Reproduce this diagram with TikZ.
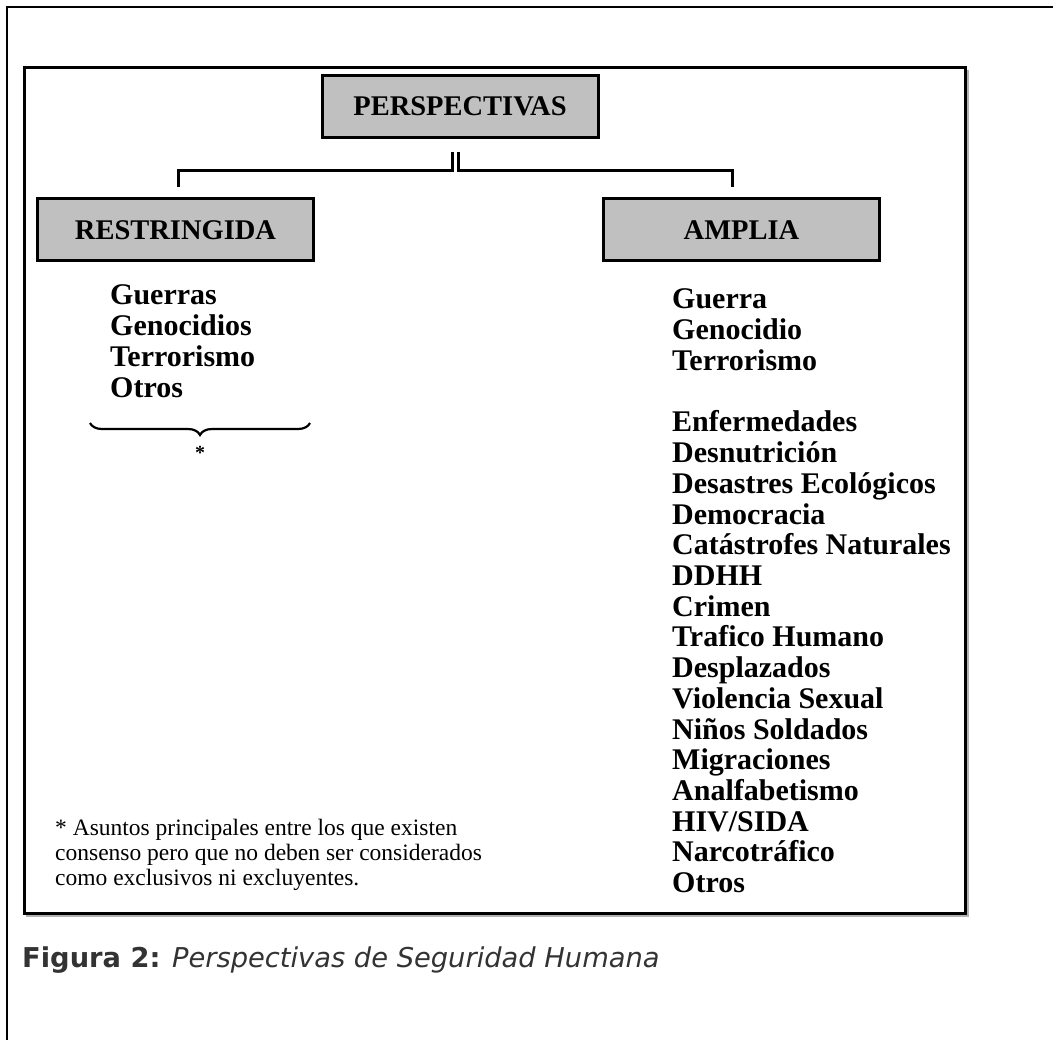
\documentclass[tikz,border=0pt]{standalone}
\usepackage{fontspec}
\setmainfont{Liberation Serif}
\newfontfamily\capsans{DejaVu Sans}
\usetikzlibrary{decorations.pathreplacing}
\definecolor{boxgray}{HTML}{C0C0C0}
\definecolor{capgray}{HTML}{333333}
\begin{document}
\begin{tikzpicture}[x=1pt,y=-1pt,
  hdr/.style={draw, line width=3pt, fill=boxgray, minimum width=276pt, minimum height=62pt, inner sep=0pt, font=\fontsize{28.5}{30}\selectfont\bfseries},
  item/.style={anchor=base west, inner sep=0pt, font=\fontsize{30}{31}\selectfont\bfseries},
  note/.style={anchor=base west, inner sep=0pt, font=\fontsize{23.5}{25}\selectfont},
  conn/.style={line width=3pt},
]
\useasboundingbox (0,0) rectangle (1053,1040);
\fill[white] (0,0) rectangle (1053,1040);
% outer frame (top and left only)
\draw[line width=2.5pt] (7,1041) -- (7,7) -- (1054,7);
% inner box with shadow
\draw[line width=2pt, gray!60] (967.5,70) -- (967.5,916) -- (26,916);
\draw[line width=3pt] (24,68) rectangle (965,913.5);
% headers
\node[hdr] (persp) at (460,106.5) {PERSPECTIVAS};
\node[hdr] (restr) at (175.5,230) {RESTRINGIDA};
\node[hdr] (ampl) at (741.5,230) {AMPLIA};
% connectors
\coordinate (pl) at (452,152);
\coordinate (pr) at (458,152);
\coordinate (rl) at (178,187);
\coordinate (rr) at (732,187);
\draw[conn] (pl) -- ++(0,19) -| (rl);
\draw[conn] (pr) -- ++(0,19) -| (rr);
% left list
\foreach \t [count=\i] in {Guerras,Genocidios,Terrorismo,Otros}
  \node[item] (l\i) at (110,{305+31*(\i-1)}) {\t};
% brace and star
\coordinate (bl) at (90,423);
\coordinate (br) at (310,423);
\draw[line width=2.2pt, decorate, decoration={brace, mirror, amplitude=12pt}] (bl) -- (br);
\node[inner sep=0pt, font=\fontsize{20}{20}\selectfont\bfseries] (star) at (200,453) {*};
% right list
\foreach \t [count=\i] in {Guerra,Genocidio,Terrorismo}
  \node[item] (a\i) at (672,{309+30.7*(\i-1)}) {\t};
\foreach \t [count=\i] in {Enfermedades,Desnutrición,Desastres Ecológicos,Democracia,Catástrofes Naturales,DDHH,Crimen,Trafico Humano,Desplazados,Violencia Sexual,Niños Soldados,Migraciones,Analfabetismo,HIV/SIDA,Narcotráfico,Otros}
  \node[item] (b\i) at (672,{432+30.7*(\i-1)}) {\t};
% footnote
\node[note] (n1) at (55,835) {* Asuntos principales entre los que existen};
\node[note] (n2) at (55,860) {consenso pero que no deben ser considerados};
\node[note] (n3) at (55,885) {como exclusivos ni excluyentes.};
% caption
\node[anchor=base west, inner sep=0pt, text=capgray, font=\capsans\fontsize{27.3}{29}\selectfont] (cap) at (22,967) {\textbf{Figura 2:} \textit{Perspectivas de Seguridad Humana}};
\end{tikzpicture}
\end{document}
